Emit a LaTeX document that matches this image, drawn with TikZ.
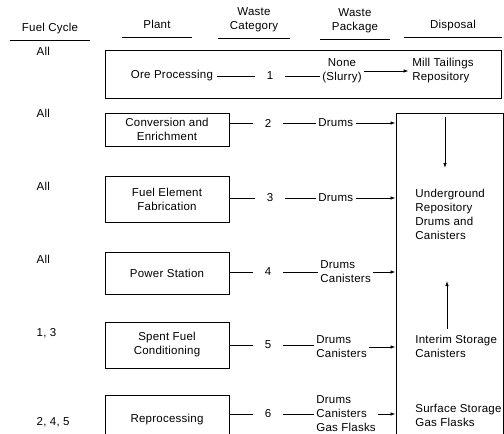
\documentclass[tikz,border=0pt]{standalone}
\usepackage{fontspec}
\setmainfont{Liberation Sans}[LetterSpace=2]
\usetikzlibrary{arrows.meta}

\begin{document}
\begin{tikzpicture}[
		x=1pt, y=-1pt,
		font=\fontsize{11.5}{14}\selectfont,
		line width=0.8pt,
		>={Latex[length=5pt,width=3.5pt]},
		head/.style={anchor=south, align=center, inner xsep=0pt, inner ysep=5pt, text depth=3pt, minimum width=#1},
		plant/.style={draw, line width=1pt, minimum width=124pt, minimum height=#1, align=center},
		cat/.style={inner xsep=11pt, inner ysep=2pt},
		pack/.style={anchor=west, align=left, inner sep=2pt},
		disp/.style={anchor=north west, align=left, inner sep=0pt},
	]
		\useasboundingbox (0,0) rectangle (504,434);

		% column heads
		\node[head=80pt] (hfuel) at (50,40) {Fuel Cycle};
		\node[head=70pt] (hplant) at (157,37) {Plant};
		\node[head=72pt] (hcat) at (254,38) {Waste\\Category};
		\node[head=70pt] (hpack) at (355,39) {Waste\\Package};
		\node[head=97pt] (hdisp) at (453,37) {Disposal};
		\foreach \h in {hfuel,hplant,hcat,hpack,hdisp}
			\draw (\h.south west) -- (\h.south east);

		% fuel cycles
		\node[anchor=west] (fc1) at (33,51) {All};
		\node[anchor=west] (fc2) at (33,113) {All};
		\node[anchor=west] (fc3) at (33,186) {All};
		\node[anchor=west] (fc4) at (33,259) {All};
		\node[anchor=west] (fc5) at (33,333) {1, 3};
		\node[anchor=west] (fc6) at (33,422) {2, 4, 5};

		% ore processing
		\node[draw, line width=1pt, minimum width=396pt, minimum height=48pt] (orebox) at (303,74) {};
		\node (ore) at (172,76) {Ore Processing};
		\node[cat] (c1) at (270,76) {1};
		\node[align=center, inner sep=2pt] (p1) at (342,71) {None\\(Slurry)};
		\node[align=left] (d1) at (443,71) {Mill Tailings\\Repository};
		\draw (ore) -- (c1);
		\draw (c1) -- (c1 -| p1.west);
		\draw[->] (p1) -- (d1);

		% disposal
		\node[draw, line width=1pt, minimum width=107pt, minimum height=335pt] (dbox) at (449.5,280.5) {};
		\node[disp] (ug) at (415,189) {Underground\\Repository\\Drums and\\Canisters};
		\node[disp] (is) at (415,335) {Interim Storage\\Canisters};
		\node[disp] (ss) at (415,404) {Surface Storage\\Gas Flasks};
		\coordinate (dtop) at (445,117);
		\draw[->] (dtop) -- ++(0,51);
		\draw[->] ([xshift=32pt,yshift=6pt]is.north west) -- ++(0,-48);

		% plants
		\node[plant=33pt] (b2) at (167,129.5) {Conversion and\\Enrichment};
		\node[cat] (c2) at (268,123) {2};
		\node[pack] (p2) at (316,123) {Drums};
		\draw (b2.east |- c2) -- (c2);
		\draw (c2) -- (p2);
		\draw[->] (p2) -- (p2 -| dbox.west);

		\node[plant=46pt] (b3) at (167,199) {Fuel Element\\Fabrication};
		\node[cat] (c3) at (270,198) {3};
		\node[pack] (p3) at (316,198) {Drums};
		\draw (b3.east |- c3) -- (c3);
		\draw (c3) -- (p3);
		\draw[->] (p3) -- (p3 -| dbox.west);

		\node[plant=42pt] (b4) at (167,273) {Power Station};
		\node[cat] (c4) at (268,272) {4};
		\node[pack] (p4) at (318,272) {Drums\\Canisters};
		\draw (b4.east |- c4) -- (c4);
		\draw (c4) -- (p4);
		\draw[->] (p4) -- (p4 -| dbox.west);

		\node[plant=46pt] (b5) at (167,345) {Spent Fuel\\Conditioning};
		\node[cat] (c5) at (268,345) {5};
		\node[pack] (p5) at (314,347) {Drums\\Canisters};
		\draw (b5.east |- c5) -- (c5);
		\draw (c5) -- (p5.west |- c5);
		\draw[->] (p5) -- (p5 -| dbox.west);

		\node[plant=50pt] (b6) at (167,420) {Reprocessing};
		\node[cat] (c6) at (268,414) {6};
		\node[pack] (p6) at (314,414) {Drums\\Canisters\\Gas Flasks};
		\draw (b6.east |- c6) -- (c6);
		\draw (c6) -- (p6);
		\draw[->] (p6) -- (p6 -| dbox.west);
	\end{tikzpicture}
\end{document}
